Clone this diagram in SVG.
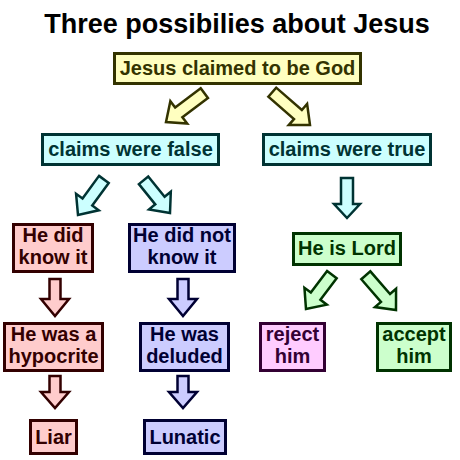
<svg xmlns="http://www.w3.org/2000/svg" width="460" height="460" viewBox="0 0 460 460">
<style>
text{font-family:"Liberation Sans",Arial,sans-serif;font-weight:bold;font-size:20px;text-anchor:middle}
.title{font-size:27px;fill:#000}
.box{stroke-width:3}
.arr{stroke-width:2.5;stroke-linejoin:miter}
.y{fill:#ffffc0;stroke:#333300}.yt{fill:#333300}
.c{fill:#ccffff;stroke:#003333}.ct{fill:#003333}
.p{fill:#ffcccc;stroke:#330000}.pt{fill:#330000}
.b{fill:#ccccff;stroke:#000033}.bt{fill:#000033}
.g{fill:#ccffcc;stroke:#003300}.gt{fill:#003300}
.m{fill:#ffccff;stroke:#330033}.mt{fill:#330033}
</style>
<rect width="460" height="460" fill="#fff"/>
<text class="title" x="237" y="33">Three possibilies about Jesus</text>
<g id="connectors">
<polygon class="arr y" transform="translate(166,122) rotate(53)" points="-6,-48 6,-48 6,-16 14,-16 0,0 -14,-16 -6,-16"/>
<polygon class="arr y" transform="translate(310,125) rotate(-49)" points="-6,-50 6,-50 6,-16 14,-16 0,0 -14,-16 -6,-16"/>
<polygon class="arr c" transform="translate(78,215) rotate(36)" points="-6,-44 6,-44 6,-16 14,-16 0,0 -14,-16 -6,-16"/>
<polygon class="arr c" transform="translate(170,213) rotate(-39)" points="-6,-42 6,-42 6,-16 14,-16 0,0 -14,-16 -6,-16"/>
<polygon class="arr c" transform="translate(347,218)" points="-6,-40 6,-40 6,-14 13,-14 0,0 -13,-14 -6,-14"/>
<polygon class="arr g" transform="translate(306,309) rotate(37)" points="-6,-43 6,-43 6,-16 14,-16 0,0 -14,-16 -6,-16"/>
<polygon class="arr g" transform="translate(396,310) rotate(-41)" points="-6,-46 6,-46 6,-16 14,-16 0,0 -14,-16 -6,-16"/>
<polygon class="arr p" transform="translate(55,316)" points="-5.5,-37 5.5,-37 5.5,-17 14,-17 0,0 -14,-17 -5.5,-17"/>
<polygon class="arr b" transform="translate(183,316)" points="-5.5,-37 5.5,-37 5.5,-17 14,-17 0,0 -14,-17 -5.5,-17"/>
<polygon class="arr p" transform="translate(55,408)" points="-5.5,-32 5.5,-32 5.5,-16 14,-16 0,0 -14,-16 -5.5,-16"/>
<polygon class="arr b" transform="translate(183,408)" points="-5.5,-32 5.5,-32 5.5,-16 14,-16 0,0 -14,-16 -5.5,-16"/>
</g>
<g id="n-god"><rect class="box y" x="114.5" y="53.5" width="246" height="30"/><text class="yt" x="237.5" y="75">Jesus claimed to be God</text></g>
<g id="n-false"><rect class="box c" x="42.5" y="134.5" width="176" height="30"/><text class="ct" x="130.5" y="156">claims were false</text></g>
<g id="n-true"><rect class="box c" x="263.5" y="134.5" width="167" height="30"/><text class="ct" x="347" y="156">claims were true</text></g>
<g id="n-didknow"><rect class="box p" x="13.5" y="224.5" width="79" height="47"/><text class="pt" x="53" y="242">He did</text><text class="pt" x="53" y="264">know it</text></g>
<g id="n-didnotknow"><rect class="box b" x="129.5" y="224.5" width="105" height="47"/><text class="bt" x="182" y="242">He did not</text><text class="bt" x="182" y="264">know it</text></g>
<g id="n-lord"><rect class="box g" x="293.5" y="233.5" width="107" height="31"/><text class="gt" x="347" y="255">He is Lord</text></g>
<g id="n-hypocrite"><rect class="box p" x="4.5" y="323.5" width="98" height="47"/><text class="pt" x="53.5" y="341">He was a</text><text class="pt" x="53.5" y="363">hypocrite</text></g>
<g id="n-deluded"><rect class="box b" x="140.5" y="323.5" width="88" height="47"/><text class="bt" x="184.5" y="341">He was</text><text class="bt" x="184.5" y="363">deluded</text></g>
<g id="n-reject"><rect class="box m" x="260.5" y="323.5" width="64" height="47"/><text class="mt" x="292.5" y="341">reject</text><text class="mt" x="292.5" y="363">him</text></g>
<g id="n-accept"><rect class="box g" x="377.5" y="323.5" width="73" height="47"/><text class="gt" x="414" y="341">accept</text><text class="gt" x="414" y="363">him</text></g>
<g id="n-liar"><rect class="box p" x="30.5" y="420.5" width="46" height="33"/><text class="pt" x="53.5" y="444">Liar</text></g>
<g id="n-lunatic"><rect class="box b" x="144.5" y="420.5" width="81" height="33"/><text class="bt" x="185" y="444">Lunatic</text></g>
</svg>
